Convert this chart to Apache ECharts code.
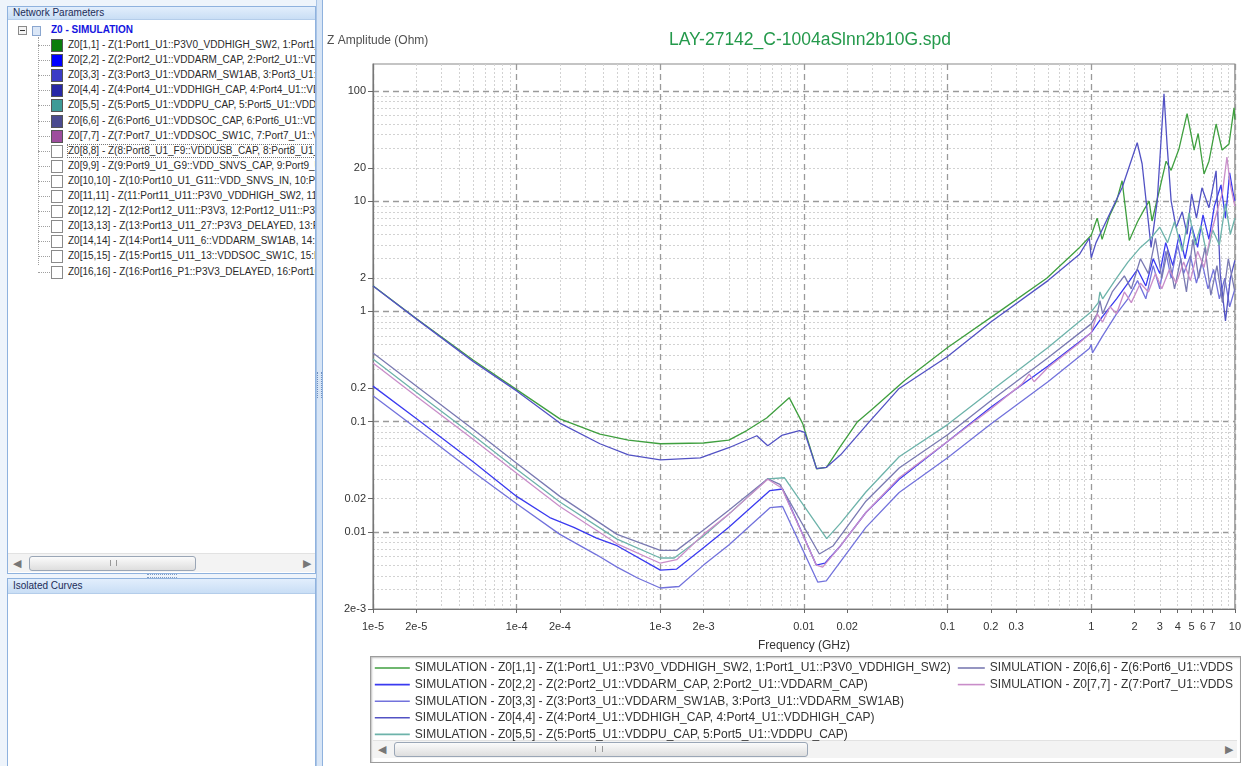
<!DOCTYPE html>
<html><head><meta charset="utf-8">
<script src="https://cdn.jsdelivr.net/npm/echarts@6/dist/echarts.min.js"></script>
<style>
html,body{margin:0;padding:0}
body{width:1244px;height:766px;overflow:hidden;background:#fff;position:relative;font-family:"Liberation Sans",Arial,sans-serif}
#ui{position:absolute;left:0;top:0;width:1244px;height:766px;z-index:0}
#chart{position:absolute;left:0;top:0;width:1244px;height:766px;z-index:1}
.leftbg{position:absolute;left:0;top:0;width:322px;height:766px;background:#eef4fb}
.panel{position:absolute;border:1px solid #8fb2de;background:#fff;overflow:hidden}
.hdr{height:12px;line-height:12px;font-size:10px;color:#1c2c58;padding-left:5px;background:linear-gradient(#e2eefc,#c9def5);border-bottom:1px solid #b4cdea;white-space:nowrap}
.row{position:absolute;left:0;height:14px;line-height:14px;font-size:10px;color:#2a2a2a;white-space:nowrap}
.box{position:absolute;width:10px;height:11px;border:1px solid #6b6b6b}
.hs{position:absolute;background:#f3f3f3;border-top:1px solid #e2e2e2}
.thumb{position:absolute;border:1px solid #9aa6b6;border-radius:3px;background:linear-gradient(#fbfbfb,#dedede)}
.arrow{position:absolute;font-size:11px;color:#777;line-height:14px}
.vsplit{position:absolute;left:316px;top:0;width:5px;height:766px;background:#d7e5f6;border-left:1px solid #a9c4e6;border-right:1px solid #8fb2de}
.legbox{position:absolute;left:370px;top:656px;width:869px;height:105px;border:1px solid #9c9c9c;background:#fff;box-shadow:inset 1px 1px 2px rgba(0,0,0,0.25)}
</style></head><body>
<div id="ui">
  <div class="leftbg"></div>
  <div class="panel" id="p1" style="left:7px;top:6px;width:307px;height:566px">
    <div class="hdr">Network Parameters</div>
  </div>
  <div style="position:absolute;left:147px;top:574px;width:30px;height:2px;border-top:1px dotted #7f9cc4;border-bottom:1px dotted #7f9cc4"></div>
  <div class="panel" style="left:7px;top:578px;width:307px;height:190px">
    <div class="hdr" style="height:14px;line-height:14px">Isolated Curves</div>
  </div>
  <div class="vsplit"></div>
  <div style="position:absolute;left:317px;top:372px;width:3px;height:26px;border-left:1px dotted #6f8fbf;border-right:1px dotted #6f8fbf"></div>
  <div class="legbox">
    <div class="hs" style="left:2px;top:83px;width:864px;height:17px">
      <div class="arrow" style="left:5px;top:1px">&#9664;</div>
      <div class="thumb" style="left:21px;top:1px;width:412px;height:13px"><div style="position:absolute;left:200px;top:3px;width:6px;height:6px;border-left:1px solid #999;border-right:1px solid #999"></div></div>
      <div class="arrow" style="left:852px;top:1px">&#9654;</div>
    </div>
  </div>
</div>
<div id="chart"></div>
<script>
// ---------- data ----------
const seriesNames = [
  'SIMULATION - Z0[1,1] - Z(1:Port1_U1::P3V0_VDDHIGH_SW2, 1:Port1_U1::P3V0_VDDHIGH_SW2)',
  'SIMULATION - Z0[2,2] - Z(2:Port2_U1::VDDARM_CAP, 2:Port2_U1::VDDARM_CAP)',
  'SIMULATION - Z0[3,3] - Z(3:Port3_U1::VDDARM_SW1AB, 3:Port3_U1::VDDARM_SW1AB)',
  'SIMULATION - Z0[4,4] - Z(4:Port4_U1::VDDHIGH_CAP, 4:Port4_U1::VDDHIGH_CAP)',
  'SIMULATION - Z0[5,5] - Z(5:Port5_U1::VDDPU_CAP, 5:Port5_U1::VDDPU_CAP)',
  'SIMULATION - Z0[6,6] - Z(6:Port6_U1::VDDSOC_CAP, 6:Port6_U1::VDDSOC_CAP)',
  'SIMULATION - Z0[7,7] - Z(7:Port7_U1::VDDSOC_SW1C, 7:Port7_U1::VDDSOC_SW1C)'
];
const seriesColors = ['#3f9f3f','#3a3af0','#7272dc','#5252c4','#6db3aa','#7a7ab2','#c98dc9'];
const treeLabels = [
  'Z0[1,1] - Z(1:Port1_U1::P3V0_VDDHIGH_SW2, 1:Port1_U1::P3V0_VDDHIGH_SW2)',
  'Z0[2,2] - Z(2:Port2_U1::VDDARM_CAP, 2:Port2_U1::VDDARM_CAP)',
  'Z0[3,3] - Z(3:Port3_U1::VDDARM_SW1AB, 3:Port3_U1::VDDARM_SW1AB)',
  'Z0[4,4] - Z(4:Port4_U1::VDDHIGH_CAP, 4:Port4_U1::VDDHIGH_CAP)',
  'Z0[5,5] - Z(5:Port5_U1::VDDPU_CAP, 5:Port5_U1::VDDPU_CAP)',
  'Z0[6,6] - Z(6:Port6_U1::VDDSOC_CAP, 6:Port6_U1::VDDSOC_CAP)',
  'Z0[7,7] - Z(7:Port7_U1::VDDSOC_SW1C, 7:Port7_U1::VDDSOC_SW1C)',
  'Z0[8,8] - Z(8:Port8_U1_F9::VDDUSB_CAP, 8:Port8_U1_F9::VDDUSB_CAP)',
  'Z0[9,9] - Z(9:Port9_U1_G9::VDD_SNVS_CAP, 9:Port9_U1_G9::VDD_SNVS_CAP)',
  'Z0[10,10] - Z(10:Port10_U1_G11::VDD_SNVS_IN, 10:Port10_U1_G11::VDD_SNVS_IN)',
  'Z0[11,11] - Z(11:Port11_U11::P3V0_VDDHIGH_SW2, 11:Port11_U11::P3V0_VDDHIGH_SW2)',
  'Z0[12,12] - Z(12:Port12_U11::P3V3, 12:Port12_U11::P3V3)',
  'Z0[13,13] - Z(13:Port13_U11_27::P3V3_DELAYED, 13:Port13_U11_27::P3V3_DELAYED)',
  'Z0[14,14] - Z(14:Port14_U11_6::VDDARM_SW1AB, 14:Port14_U11_6::VDDARM_SW1AB)',
  'Z0[15,15] - Z(15:Port15_U11_13::VDDSOC_SW1C, 15:Port15_U11_13::VDDSOC_SW1C)',
  'Z0[16,16] - Z(16:Port16_P1::P3V3_DELAYED, 16:Port16_P1::P3V3_DELAYED)'
];
const treeBoxColors = ['#0b7d0b','#0000ff','#3c3cc6','#2828a6','#3f9b97','#4b4b8f','#9d4d9d'];

const xLabelValues = [1e-5,2e-5,1e-4,2e-4,1e-3,2e-3,0.01,0.02,0.1,0.2,0.3,1,2,3,4,5,6,7,10];
const xLabelTexts  = ['1e-5','2e-5','1e-4','2e-4','1e-3','2e-3','0.01','0.02','0.1','0.2','0.3','1','2','3','4','5','6','7','10'];
const xMajor = [1e-5,1e-4,1e-3,0.01,0.1,1,10];
const yLabelValues = [0.002,0.01,0.02,0.1,0.2,1,2,10,20,100];
const yLabelTexts  = ['2e-3','0.01','0.02','0.1','0.2','1','2','10','20','100'];
const yMajor = [0.01,0.1,1,10,100];
const minorMultipliers = [2,3,4,5,6,7,8,9];

// [frequency GHz, |Z| Ohm]
const z11 = [[1e-5,1.71],[2e-5,0.86],[5e-5,0.36],[1e-4,0.195],[2e-4,0.106],[3.8e-4,0.077],[6e-4,0.068],[1e-3,0.063],[2e-3,0.064],[3e-3,0.068],[4e-3,0.083],[5.5e-3,0.108],[7.9e-3,0.165],[9.8e-3,0.096],[0.01225,0.0374],[0.01435,0.0385],[0.0177,0.058],[0.0236,0.1],[0.03,0.13],[0.05,0.235],[0.1,0.47],[0.23,1.0],[0.49,2.0],[0.83,3.8],[1.0,4.9],[1.1,7.0],[1.19,4.5],[1.35,7.5],[1.5,10],[1.64,15.3],[1.84,4.4],[2.1,6.5],[2.35,8.5],[2.53,10],[2.65,6.6],[3.0,13],[3.32,23],[3.6,19],[4.09,30],[4.65,62],[5.2,29],[5.55,41],[6.1,17.6],[6.6,23],[7.4,50],[8.15,29],[9.1,33],[9.87,70],[10,55]];
const z22 = [[1e-5,0.21],[2e-5,0.107],[5e-5,0.043],[1e-4,0.021],[1.7e-4,0.0135],[2.5e-4,0.011],[3.6e-4,0.0088],[5e-4,0.0075],[1e-3,0.0045],[1.3e-3,0.0046],[2e-3,0.0072],[3e-3,0.011],[5.8e-3,0.0237],[7.1e-3,0.0245],[0.0122,0.005],[0.014,0.0052],[0.018,0.0075],[0.027,0.015],[0.046,0.03],[0.1,0.066],[0.2,0.135],[0.5,0.32],[1.0,0.64],[1.2,0.9],[1.5,1.3],[1.8,1.8],[2.1,2.4],[2.4,1.7],[2.7,3.0],[3.0,2.2],[3.3,4.2],[3.7,2.6],[4.1,5.0],[4.5,3.0],[5.0,6.0],[5.5,3.8],[6.0,7.5],[6.6,4.5],[7.2,9.0],[8.0,14],[8.6,7.0],[9.2,18],[9.7,12],[10,10]];
const z33 = [[1e-5,0.172],[2e-5,0.087],[5e-5,0.035],[1e-4,0.018],[2e-4,0.0095],[3.6e-4,0.0062],[5e-4,0.0048],[7e-4,0.0038],[1e-3,0.0031],[1.35e-3,0.0032],[2e-3,0.005],[3e-3,0.0076],[5.8e-3,0.0166],[7.1e-3,0.017],[0.0125,0.0035],[0.0143,0.0036],[0.02,0.0065],[0.027,0.011],[0.046,0.0228],[0.1,0.047],[0.2,0.095],[0.5,0.23],[0.97,0.46],[1.0,0.5],[1.02,0.42],[1.2,0.6],[1.5,0.95],[1.8,1.3],[2.1,1.9],[2.4,1.3],[2.7,2.6],[3.0,1.6],[3.3,3.5],[3.6,2.0],[4.0,4.0],[4.4,2.2],[4.9,3.2],[5.4,1.8],[5.9,2.8],[6.5,1.6],[7.1,2.4],[7.8,1.3],[8.5,2.0],[9.2,1.1],[10,1.6]];
const z44 = [[1e-5,1.70],[2e-5,0.855],[5e-5,0.35],[1e-4,0.19],[2e-4,0.097],[3.8e-4,0.063],[6e-4,0.05],[1e-3,0.045],[1.9e-3,0.047],[3e-3,0.058],[4.7e-3,0.0745],[5.6e-3,0.0605],[7e-3,0.075],[9.3e-3,0.0827],[0.0101,0.08],[0.01225,0.0375],[0.01435,0.0385],[0.018,0.05],[0.0286,0.1],[0.046,0.2],[0.1,0.39],[0.2,0.8],[0.5,1.9],[0.83,3.3],[0.97,4.6],[1.0,3.06],[1.08,4.2],[1.3,7.0],[1.64,13.2],[2.09,33.8],[2.26,21.8],[2.61,3.8],[2.88,10],[3.21,94],[3.37,33],[3.6,10],[3.9,5.75],[4.3,8.0],[4.65,5.0],[5.0,11.6],[5.4,7.0],[5.9,13.2],[6.6,8.7],[7.4,18.8],[7.9,2.2],[8.6,0.82],[9.3,2.0],[10,2.9]];
const z55 = [[1e-5,0.37],[2e-5,0.185],[5e-5,0.075],[1e-4,0.037],[2e-4,0.0187],[5e-4,0.0086],[1e-3,0.0058],[1.25e-3,0.0058],[2e-3,0.0092],[3e-3,0.0145],[5.6e-3,0.0303],[7.3e-3,0.031],[0.0144,0.0087],[0.018,0.012],[0.027,0.023],[0.046,0.048],[0.1,0.094],[0.2,0.19],[0.5,0.47],[1.0,0.99],[1.12,1.2],[1.15,1.5],[1.2,1.3],[1.5,2.0],[1.8,2.8],[2.2,3.8],[2.6,4.6],[3.0,5.8],[3.4,4.2],[3.8,6.5],[4.3,3.5],[4.8,7.8],[5.3,4.0],[5.8,6.0],[6.4,3.2],[7.0,5.5],[7.8,4.0],[8.6,9.5],[9.3,5.0],[10,7.0]];
const z66 = [[1e-5,0.42],[2e-5,0.21],[5e-5,0.085],[1e-4,0.042],[2e-4,0.021],[5e-4,0.0095],[1e-3,0.0068],[1.3e-3,0.0068],[2e-3,0.0104],[3e-3,0.0157],[5.6e-3,0.0303],[6.8e-3,0.027],[0.0128,0.0063],[0.016,0.0075],[0.027,0.019],[0.046,0.038],[0.1,0.076],[0.2,0.155],[0.5,0.38],[1.0,0.77],[1.1,0.95],[1.15,1.25],[1.2,0.95],[1.4,1.5],[1.7,2.1],[1.9,1.6],[2.2,3.0],[2.5,2.2],[2.8,4.6],[3.1,2.0],[3.4,3.6],[3.8,1.6],[4.2,3.0],[4.6,1.5],[5.1,4.5],[5.6,2.0],[6.2,3.8],[6.8,1.4],[7.5,2.6],[8.2,1.2],[9.0,3.0],[10,1.5]];
const z77 = [[1e-5,0.34],[2e-5,0.17],[5e-5,0.069],[1e-4,0.034],[2e-4,0.017],[5e-4,0.0078],[1e-3,0.0052],[1.3e-3,0.0056],[2e-3,0.0095],[3e-3,0.0145],[5.6e-3,0.03],[7e-3,0.025],[0.0122,0.005],[0.0135,0.0048],[0.018,0.0075],[0.027,0.015],[0.046,0.031],[0.1,0.066],[0.2,0.13],[0.33,0.22],[0.37,0.27],[0.4,0.23],[0.5,0.31],[0.8,0.5],[1.0,0.64],[1.1,0.95],[1.2,0.8],[1.35,1.1],[1.5,0.95],[1.7,1.5],[1.9,1.2],[2.2,1.8],[2.5,1.5],[2.8,2.2],[3.1,1.6],[3.5,2.4],[3.9,1.8],[4.4,2.8],[4.9,1.9],[5.5,3.5],[6.1,2.5],[6.8,5.0],[7.5,8.0],[8.2,12],[8.8,25],[9.3,14],[10,9.0]];
const seriesData = [z11, z22, z33, z44, z55, z66, z77];

// ---------- tree (UI) ----------
(function(){
  const p = document.getElementById('p1');
  const ox = 8, oy = 7; // panel origin in page coords
  function add(html){ p.insertAdjacentHTML('beforeend', html); }
  add('<div style="position:absolute;left:'+(18-ox)+'px;top:'+(26-oy)+'px;width:7px;height:7px;border:1px solid #8a8a8a;background:#f4f4f4"><div style="position:absolute;left:1px;top:3px;width:5px;height:1px;background:#333"></div></div>');
  add('<div style="position:absolute;left:'+(32-ox)+'px;top:'+(26-oy)+'px;width:7px;height:8px;border:1px solid #8aa6cf;background:#dbe7f7"></div>');
  add('<div class="row" style="left:'+(51-ox)+'px;top:'+(23-oy)+'px;font-weight:bold;color:#1414e0">Z0 - SIMULATION</div>');
  add('<div style="position:absolute;left:'+(38-ox)+'px;top:'+(37-oy)+'px;width:0;height:'+(15*15.1+1)+'px;border-left:1px dotted #a0a0a0"></div>');
  for (let i=0;i<treeLabels.length;i++){
    const cy = 45 + i*15.1;
    add('<div style="position:absolute;left:'+(38-ox)+'px;top:'+(cy-oy)+'px;width:12px;height:0;border-top:1px dotted #a0a0a0"></div>');
    const col = i < treeBoxColors.length ? treeBoxColors[i] : '#fff';
    const bc = i < treeBoxColors.length ? '#555' : '#8a8a8a';
    add('<div class="box" style="left:'+(51-ox)+'px;top:'+(cy-6-oy)+'px;background:'+col+';border-color:'+bc+'"></div>');
    const focus = i===7 ? 'outline:1px dotted #777;outline-offset:-1px;' : '';
    add('<div class="row" style="left:'+(67-ox)+'px;top:'+(cy-7-oy)+'px;padding:0 1px;'+focus+'">'+treeLabels[i]+'</div>');
  }
  add('<div class="hs" style="left:0;top:'+(553-oy)+'px;width:307px;height:18px"><div class="arrow" style="left:5px;top:2px">&#9664;</div><div class="thumb" style="left:'+(29-ox)+'px;top:2px;width:165px;height:13px"><div style="position:absolute;left:80px;top:3px;width:5px;height:6px;border-left:1px solid #999;border-right:1px solid #999"></div></div><div class="arrow" style="left:295px;top:2px">&#9654;</div></div>');
})();

// ---------- chart ----------
function fmtFrom(values, labels){
  return function(v){
    for (let i=0;i<values.length;i++){
      if (Math.abs(Math.log10(v) - Math.log10(values[i])) < 1e-6) return labels[i];
    }
    return '';
  };
}
function minorList(lo, hi){
  const out = [];
  for (let d = lo; d <= hi; d++){
    for (const m of minorMultipliers){ out.push(m * Math.pow(10, d)); }
  }
  return out;
}
const xMinor = minorList(-5, 0);
const yMinor = minorList(-3, 1);
const X_MIN = 1e-5, X_MAX = 10, Y_MIN = 0.002, Y_MAX = 175;

const chart = echarts.init(document.getElementById('chart'), null, {renderer:'canvas'});
const baseX = {type:'log', logBase:10, min:X_MIN, max:X_MAX, gridIndex:0, position:'bottom', axisLine:{show:false}, axisLabel:{show:false}, axisTick:{show:false}};
const baseY = {type:'log', logBase:10, min:Y_MIN, max:Y_MAX, gridIndex:0, position:'left', axisLine:{show:false}, axisLabel:{show:false}, axisTick:{show:false}};
const legendCommon = {orient:'vertical', top:662, padding:0, itemHeight:14, itemGap:4.6, selectedMode:false,
  itemStyle:{opacity:0}, lineStyle:{width:1.6}, textStyle:{fontSize:12, color:'#333'}};

chart.setOption({
  backgroundColor:'transparent',
  animation:false,
  textStyle:{fontFamily:'"Liberation Sans", Arial, sans-serif'},
  title:[
    {text:'LAY-27142_C-1004aSlnn2b10G.spd', left:805, top:26, textAlign:'center', textStyle:{fontSize:17.5, fontWeight:'normal', color:'#24994b'}},
    {text:'Z Amplitude (Ohm)', left:322, top:30, textStyle:{fontSize:12, fontWeight:'normal', color:'#505050'}}
  ],
  grid:{left:373, right:8, top:64, bottom:157, show:true, borderColor:'#8a8a8a', borderWidth:1.2, backgroundColor:'transparent'},
  legend:[
    Object.assign({}, legendCommon, {left:374, itemWidth:35, data:seriesNames.slice(0,5)}),
    Object.assign({}, legendCommon, {left:957, itemWidth:27,
      data:seriesNames.slice(5).map(n => ({name:n, textStyle:{width:248, overflow:'truncate', ellipsis:''}}))})
  ],
  xAxis:[
    Object.assign({}, baseX, {
      axisLine:{show:true, lineStyle:{color:'#777', width:1.2}},
      axisTick:{show:true, customValues:xLabelValues, length:4, lineStyle:{color:'#666'}},
      axisLabel:{show:true, customValues:xLabelValues, formatter:fmtFrom(xLabelValues, xLabelTexts), fontSize:11, color:'#333', margin:12},
      splitLine:{show:false},
      name:'Frequency (GHz)', nameLocation:'middle', nameGap:31, nameTextStyle:{fontSize:12, color:'#333'}
    }),
    Object.assign({}, baseX, {axisTick:{show:false, customValues:xMinor}, splitLine:{show:true, lineStyle:{color:'#d2d2d2', width:1, type:[2,2]}}}),
    Object.assign({}, baseX, {axisTick:{show:false, customValues:xMajor}, splitLine:{show:true, lineStyle:{color:'#9a9a9a', width:1.3, type:[6,4]}}})
  ],
  yAxis:[
    Object.assign({}, baseY, {
      axisLine:{show:true, lineStyle:{color:'#777', width:1.2}},
      axisTick:{show:true, customValues:yLabelValues, length:5, lineStyle:{color:'#666'}},
      axisLabel:{show:true, customValues:yLabelValues, formatter:fmtFrom(yLabelValues, yLabelTexts), fontSize:11, color:'#333', margin:7},
      splitLine:{show:false}
    }),
    Object.assign({}, baseY, {axisTick:{show:false, customValues:yMinor}, splitLine:{show:true, lineStyle:{color:'#d2d2d2', width:1, type:[2,2]}}}),
    Object.assign({}, baseY, {axisTick:{show:false, customValues:yMajor}, splitLine:{show:true, lineStyle:{color:'#9a9a9a', width:1.3, type:[6,4]}}})
  ],
  series: seriesNames.map((n,i) => ({
    name:n, type:'line', xAxisIndex:0, yAxisIndex:0, data:seriesData[i],
    showSymbol:false, symbol:'none', smooth:false, clip:true,
    lineStyle:{width:1.3, color:seriesColors[i]}, itemStyle:{color:seriesColors[i]},
    emphasis:{disabled:true}, z:3
  }))
});
</script>
</body></html>
